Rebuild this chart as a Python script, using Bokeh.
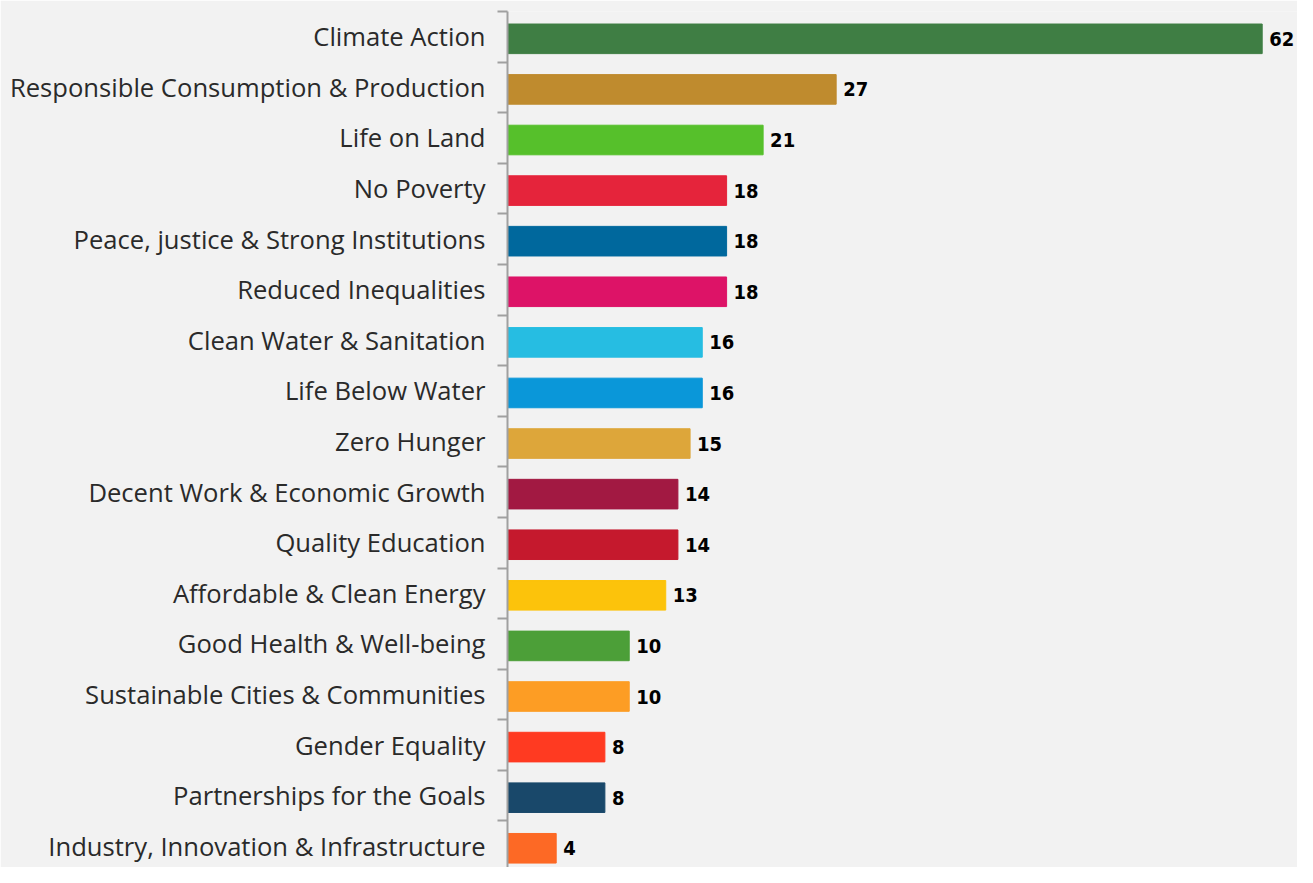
from bokeh.plotting import figure
from bokeh.models import ColumnDataSource, Range1d, FixedTicker, LabelSet
from bokeh.core.properties import value
from bokeh.embed import file_html
from bokeh.resources import INLINE

categories = [
    "Climate Action",
    "Responsible Consumption & Production",
    "Life on Land",
    "No Poverty",
    "Peace, justice & Strong Institutions",
    "Reduced Inequalities",
    "Clean Water & Sanitation",
    "Life Below Water",
    "Zero Hunger",
    "Decent Work & Economic Growth",
    "Quality Education",
    "Affordable & Clean Energy",
    "Good Health & Well-being",
    "Sustainable Cities & Communities",
    "Gender Equality",
    "Partnerships for the Goals",
    "Industry, Innovation & Infrastructure",
]
values = [62, 27, 21, 18, 18, 18, 16, 16, 15, 14, 14, 13, 10, 10, 8, 8, 4]
colors = [
    "#3f7e44", "#bf8b2e", "#56c02b", "#e5243b", "#00689d", "#dd1367",
    "#26bde2", "#0a97d9", "#dda63a", "#a21942", "#c5192d", "#fcc30b",
    "#4c9f38", "#fd9d24", "#ff3a21", "#19486a", "#fd6925",
]

n = len(categories)
ypos = [n - 1 - i for i in range(n)]
src = ColumnDataSource(dict(
    y=[y - 0.04 for y in ypos], v=values, c=colors, lab=[str(v) for v in values],
))

BG = "#f2f2f2"
p = figure(width=1297, height=867, output_backend="svg", toolbar_location=None,
           x_range=Range1d(0, 64.9), y_range=Range1d(-0.42, 16.5),
           min_border_left=507, min_border_right=0, min_border_top=11,
           min_border_bottom=0, background_fill_color=BG, border_fill_color=BG,
           outline_line_color=None)

p.hbar(y="y", right="v", left=0, height=0.585, color="c", source=src)

labels = LabelSet(x="v", y="y", text="lab", source=src, x_offset=7,
                  text_baseline="middle", text_align="left",
                  text_font=value("'DejaVu Sans Condensed', Roboto"), text_font_style="bold",
                  text_font_size="20px", text_color="#000000")
p.add_layout(labels)

p.xaxis.visible = False
p.xgrid.visible = False
p.ygrid.visible = False

ya = p.yaxis[0]
ya.ticker = FixedTicker(ticks=ypos, minor_ticks=[k + 0.5 for k in range(-1, n)])
ya.major_label_overrides = {y: c for y, c in zip(ypos, categories)}
ya.major_tick_out = 0
ya.major_tick_in = 0
ya.minor_tick_out = 10
ya.minor_tick_in = 0
ya.minor_tick_line_color = "#a0a0a0"
ya.minor_tick_line_width = 2
ya.axis_line_color = "#a0a0a0"
ya.axis_line_width = 2
ya.major_label_standoff = 12
ya.major_label_text_font = "Open Sans"
ya.major_label_text_font_size = "25.6px"
ya.major_label_text_color = "#2a2a2a"

open("out.html", "w").write(file_html(p, INLINE))
